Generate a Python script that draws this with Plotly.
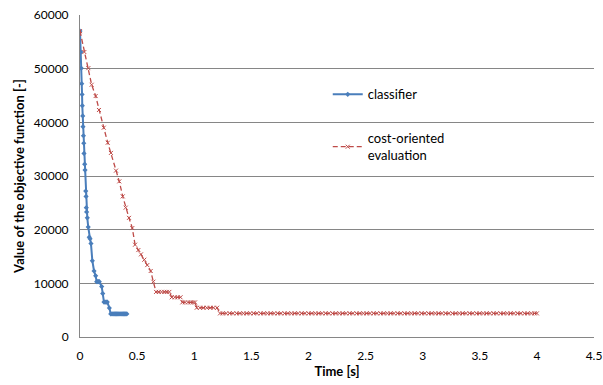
import plotly.graph_objects as go

# classifier series
clf_time = [0.0, 0.008, 0.011, 0.015, 0.018, 0.02, 0.024, 0.026, 0.03, 0.033,
            0.035, 0.041, 0.044, 0.05, 0.053, 0.055, 0.058, 0.064, 0.072, 0.081,
            0.088, 0.096, 0.108, 0.123, 0.137, 0.146, 0.155, 0.162, 0.169, 0.19,
            0.199, 0.21, 0.22, 0.23, 0.239, 0.257, 0.269, 0.28, 0.29, 0.30,
            0.31, 0.32, 0.33, 0.34, 0.35, 0.36, 0.37, 0.38, 0.39, 0.40, 0.41]
clf_value = [57000, 53100, 50100, 47200, 45200, 43100, 41200, 39200, 37500, 36100,
             34200, 32200, 31100, 27200, 26200, 24100, 23300, 22200, 20500, 18600,
             18300, 17400, 14200, 12300, 11400, 10300, 10300, 10300, 10300, 9400,
             8100, 6500, 6500, 6500, 6500, 5400, 4300, 4300, 4300, 4300,
             4300, 4300, 4300, 4300, 4300, 4300, 4300, 4300, 4300, 4300, 4300]

# cost-oriented evaluation series
cost_time = [0.0, 0.038, 0.073, 0.102, 0.137, 0.166, 0.208, 0.243, 0.271, 0.315,
             0.344, 0.374, 0.40, 0.429, 0.458, 0.482, 0.511, 0.534, 0.563, 0.589,
             0.619, 0.642,
             0.666, 0.69, 0.714, 0.738, 0.76, 0.782,
             0.803, 0.83, 0.855, 0.88,
             0.896, 0.92, 0.945, 0.97, 0.99, 1.007,
             1.022, 1.05, 1.08, 1.11, 1.14, 1.17, 1.20,
             1.226, 1.25, 1.28, 1.31, 1.34, 1.37, 1.40, 1.43, 1.46, 1.49,
             1.52, 1.55, 1.58, 1.61, 1.64, 1.67, 1.70, 1.73, 1.76, 1.79,
             1.82, 1.85, 1.88, 1.91, 1.94, 1.97, 2.00, 2.03, 2.06, 2.09,
             2.12, 2.15, 2.18, 2.21, 2.24, 2.27, 2.30, 2.33, 2.36, 2.39,
             2.42, 2.45, 2.48, 2.51, 2.54, 2.57, 2.60, 2.63, 2.66, 2.69,
             2.72, 2.75, 2.78, 2.81, 2.84, 2.87, 2.90, 2.93, 2.96, 2.99,
             3.02, 3.05, 3.08, 3.11, 3.14, 3.17, 3.20, 3.23, 3.26, 3.29,
             3.32, 3.35, 3.38, 3.41, 3.44, 3.47, 3.50, 3.53, 3.56, 3.59,
             3.62, 3.65, 3.68, 3.71, 3.74, 3.77, 3.80, 3.83, 3.86, 3.89,
             3.92, 3.95, 3.98, 4.0]
cost_value = [57000, 53100, 50100, 47000, 44900, 42300, 39000, 36200, 34300, 31000,
              29000, 26200, 24100, 22200, 20300, 17200, 16200, 15400, 14400, 13400,
              12300, 10300,
              8400, 8400, 8400, 8400, 8400, 8400,
              7400, 7400, 7400, 7400,
              6450, 6450, 6450, 6450, 6450, 6450,
              5450, 5450, 5450, 5450, 5450, 5450, 5450,
              4400, 4400, 4400, 4400, 4400, 4400, 4400, 4400, 4400, 4400,
              4400, 4400, 4400, 4400, 4400, 4400, 4400, 4400, 4400, 4400,
              4400, 4400, 4400, 4400, 4400, 4400, 4400, 4400, 4400, 4400,
              4400, 4400, 4400, 4400, 4400, 4400, 4400, 4400, 4400, 4400,
              4400, 4400, 4400, 4400, 4400, 4400, 4400, 4400, 4400, 4400,
              4400, 4400, 4400, 4400, 4400, 4400, 4400, 4400, 4400, 4400,
              4400, 4400, 4400, 4400, 4400, 4400, 4400, 4400, 4400, 4400,
              4400, 4400, 4400, 4400, 4400, 4400, 4400, 4400, 4400, 4400,
              4400, 4400, 4400, 4400, 4400, 4400, 4400, 4400, 4400, 4400,
              4400, 4400, 4400, 4400]

x_ticks = [0, 0.5, 1, 1.5, 2, 2.5, 3, 3.5, 4, 4.5]
x_tick_labels = ["0", "0.5", "1", "1.5", "2", "2.5", "3", "3.5", "4", "4.5"]
y_ticks = [0, 10000, 20000, 30000, 40000, 50000, 60000]
y_tick_labels = ["0", "10000", "20000", "30000", "40000", "50000", "60000"]

FONT = "Lato, 'Open Sans', sans-serif"

fig = go.Figure()
fig.add_trace(go.Scatter(
    x=clf_time, y=clf_value, mode="lines+markers", name="classifier",
    legendgroup="a",
    line=dict(color="#4A7EBB", width=2),
    marker=dict(symbol="diamond", size=4, color="#4A7EBB"),
))
fig.add_trace(go.Scatter(
    x=cost_time, y=cost_value, mode="lines+markers",
    name="cost-oriented<br>evaluation", legendgroup="b",
    line=dict(color="#BE4B48", width=1.3, dash="5px,3px"),
    marker=dict(symbol="x-thin", size=4, color="#BE4B48",
                line=dict(color="#BE4B48", width=1)),
))

fig.update_layout(
    width=603, height=385,
    margin=dict(l=80, r=9, t=15, b=48),
    paper_bgcolor="white", plot_bgcolor="white",
    font=dict(family=FONT, size=12, color="#000000"),
    legend=dict(x=0.482, y=0.80, xanchor="left", yanchor="top",
                font=dict(family=FONT, size=13, color="#000000"),
                tracegroupgap=24, itemwidth=30, bgcolor="rgba(0,0,0,0)"),
    showlegend=True,
)
fig.update_xaxes(
    range=[0, 4.5], tickvals=x_ticks, ticktext=x_tick_labels,
    showgrid=False, zeroline=False, automargin=False,
    showline=True, linecolor="#868686", linewidth=1,
    ticks="", ticklabelstandoff=8,
    title=dict(text="<b>Time [s]</b>", font=dict(family=FONT, size=13), standoff=2),
)
fig.update_yaxes(
    range=[0, 60000], tickvals=y_ticks, ticktext=y_tick_labels,
    showgrid=True, gridcolor="#868686", gridwidth=1, zeroline=False,
    automargin=False,
    showline=True, linecolor="#868686", linewidth=1,
    ticks="", ticklabelstandoff=8,
    title=dict(text="<b>Value of the objective function [-]</b>",
               font=dict(family=FONT, size=13), standoff=6),
)

fig.write_html("out.html", config={"displayModeBar": False},
               post_script="document.body.style.margin='0';")
